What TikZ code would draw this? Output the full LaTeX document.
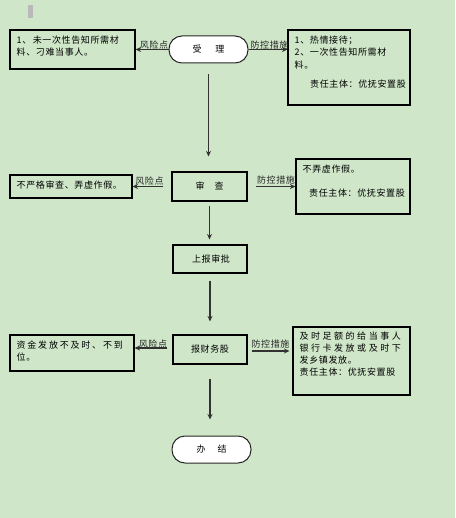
\documentclass[tikz,border=0pt]{standalone}
\usepackage{fontspec}
\newfontfamily\cjk[LetterSpace=7]{Noto Sans CJK SC}
\newfontfamily\cjkm[LetterSpace=20]{Noto Sans CJK SC}
\newfontfamily\cjkw[LetterSpace=28]{Noto Sans CJK SC}
\usetikzlibrary{arrows.meta}
\definecolor{bgc}{RGB}{207,230,201}
\definecolor{arr}{RGB}{50,50,50}
\begin{document}
\begin{tikzpicture}[x=1pt,y=-1pt,
 box/.style={draw=black, line width=1.1pt, inner sep=0pt},
 pill/.style={draw=black!85, fill=white, line width=1pt, rounded corners=13pt, inner sep=0pt},
 txt/.style={font=\cjk\fontsize{9}{12.5}\selectfont, inner sep=0pt, align=left, anchor=north west},
 ctr/.style={font=\cjk\fontsize{9}{11}\selectfont},
 lbl/.style={font=\cjk\fontsize{9}{11}\selectfont, inner sep=0pt, text=black!85},
 flow/.style={draw=arr, line width=1.4pt, -{Stealth[length=5.5pt,width=5pt]}},
]
\fill[bgc] (0,0) rectangle (455,518);
\useasboundingbox (0,0) rectangle (455,518);
\fill[gray!55] (28,5) rectangle (33,18);

% centre column
\node[pill, minimum width=79pt, minimum height=27pt] (a1) at (208.5,49.5) {};
\node[ctr] (a1t) at (a1) {受\hspace{14pt}理};
\node[box, minimum width=75pt, minimum height=29pt] (a2) at (209.5,186.5) {};
\node[ctr] (a2t) at (a2) {审\hspace{10pt}查};
\node[box, minimum width=74pt, minimum height=28pt] (a3) at (210,259) {};
\node[ctr] (a3t) at (211,259) {上报审批};
\node[box, minimum width=74pt, minimum height=29pt] (a4) at (210,349.5) {};
\node[ctr] (a4t) at (210,349.5) {报财务股};
\node[pill, minimum width=79pt, minimum height=27pt] (a5) at (211.5,449.5) {};
\node[ctr] (a5t) at (a5) {办\hspace{12pt}结};

% risk boxes
\node[box, minimum width=125pt, minimum height=39pt] (r1) at (72.5,49.5) {};
\node[txt] (r1t) at ([xshift=7pt,yshift=-6pt]r1.north west) {1、\,未一次性告知所需材\\料、刁难当事人。};
\node[box, minimum width=122pt, minimum height=23pt] (r2) at (71,186.5) {};
\node[txt] (r2t) at ([xshift=7pt,yshift=-6pt]r2.north west) {不严格审查、弄虚作假。};
\node[box, minimum width=124pt, minimum height=36pt] (r3) at (72,353) {};
\node[txt] (r3t) at ([xshift=7pt,yshift=-6pt]r3.north west) {{\cjkm 资金发放不及时、不到}\\位。};

% measure boxes
\node[box, minimum width=122pt, minimum height=75pt] (m1) at (349,67.5) {};
\node[txt] (m1t) at ([xshift=7pt,yshift=-6pt]m1.north west) {1、热情接待；\\2、一次性告知所需材\\料。};
\node[txt] (m1r) at (310,80) {责任主体：优抚安置股};
\node[box, minimum width=114pt, minimum height=55pt] (m2) at (353,186.5) {};
\node[txt] (m2t) at ([xshift=7pt,yshift=-6pt]m2.north west) {不弄虚作假。};
\node[txt] (m2r) at (309,188.5) {责任主体：优抚安置股};
\node[box, minimum width=117pt, minimum height=68pt] (m3) at (351.5,361) {};
\node[txt, font=\cjk\fontsize{9}{12}\selectfont] (m3t) at ([xshift=7pt,yshift=-5.5pt]m3.north west)
  {{\cjkw 及时足额的给当事人}\\{\cjkw 银行卡发放或及时下}\\发乡镇发放。\\责任主体：优抚安置股};

% labels
\node[lbl] (l1) at (154,45.5) {风险点};
\node[lbl] (p1) at (269.5,45.5) {防控措施};
\node[lbl] (l2) at (149.5,181.5) {风险点};
\node[lbl] (p2) at (276,180.5) {防控措施};
\node[lbl] (l3) at (153,344.5) {风险点};
\node[lbl] (p3) at (270.5,344) {防控措施};

% connectors
\draw[flow] (a1.west) -- (r1.east);
\draw[flow] (a1.east) -- (a1.east -| m1.west);
\draw[flow, shorten <=8pt] (a2.west) -- (r2.east);
\draw[flow, shorten <=8pt] (a2.east) -- (a2.east -| m2.west);
\draw[flow, shorten <=5pt] ([yshift=1.5pt]a4.west) -- ([yshift=1.5pt]a4.west -| r3.east);
\draw[flow, shorten <=4pt, shorten >=3pt] ([yshift=-1.5pt]a4.east) -- ([yshift=-1.5pt]a4.east -| m3.west);

\draw[flow, shorten <=11pt, shorten >=15pt] (a1.south) -- (a1.south |- a2.north);
\draw[flow, shorten <=4pt, shorten >=5pt] (a2.south) -- (a2.south |- a3.north);
\draw[flow, shorten <=7pt, shorten >=13pt] (a3.south) -- (a3.south |- a4.north);
\draw[flow, shorten <=14pt, shorten >=16pt] (a4.south) -- (a4.south |- a5.north);
\end{tikzpicture}
\end{document}
